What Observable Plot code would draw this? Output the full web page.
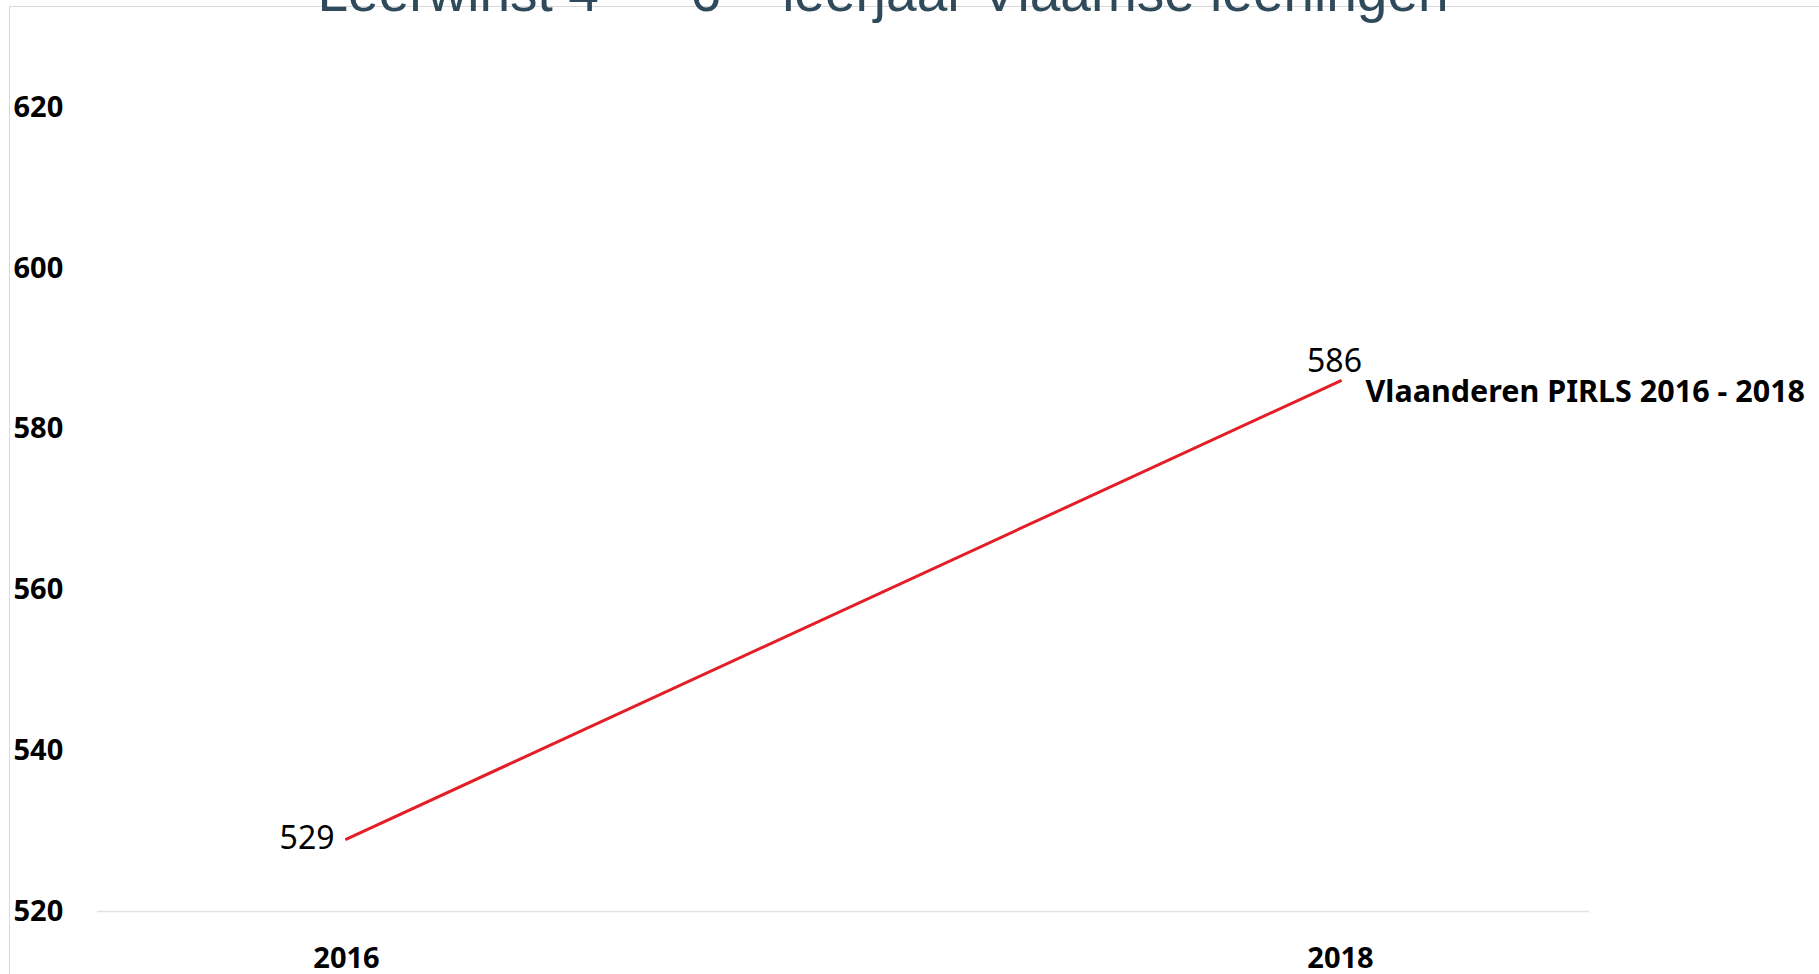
<!DOCTYPE html>
<html>
<head>
<meta charset="utf-8">
<script src="https://cdn.jsdelivr.net/npm/d3@7"></script>
<script src="https://cdn.jsdelivr.net/npm/@observablehq/plot@0.6"></script>
<style>
  html, body { margin: 0; padding: 0; background: #fff; overflow: hidden; }
  #wrap { position: relative; width: 1819px; height: 974px; }
  #border { position: absolute; left: 9px; top: 6px; width: 1812px; height: 980px;
            border-top: 1.5px solid #d9d9d9; border-left: 1.5px solid #d9d9d9; }
  #chart { position: absolute; left: 0; top: 0; }
</style>
</head>
<body>
<div id="wrap"><div id="border"></div><div id="chart"></div></div>
<script>
// Data
const years = ["2016", "2018"];
const scores = [529, 586];
const seriesName = "Vlaanderen PIRLS 2016 - 2018";
const yTicks = [520, 540, 560, 580, 600, 620];
const title = "Leerwinst 4\u00a0\u00a0\u00a0\u00a0\u00a0\u00a06\u00a0\u00a0\u00a0\u00a0leerjaar Vlaamse leerlingen";

const data = years.map((y, i) => ({year: y, score: scores[i]}));
const first = [data[0]];
const last = [data[data.length - 1]];

const chart = Plot.plot({
  width: 1819,
  height: 974,
  marginLeft: 97,
  marginRight: 230,
  marginTop: 107,
  marginBottom: 63,
  style: {fontFamily: "'Noto Sans', sans-serif", background: "transparent", color: "#000"},
  x: {type: "point", domain: years, padding: 0.25, axis: null, label: null},
  y: {domain: [520, 620], axis: null, label: null},
  marks: [
    Plot.ruleY([520], {stroke: "#e3e3e3", strokeWidth: 1.5}),
    Plot.axisY(yTicks, {anchor: "left", label: null, tickSize: 0, tickPadding: 84, textAnchor: "start",
      fontSize: 29, fontWeight: "bold", fill: "#000"}),
    Plot.axisX(years, {anchor: "bottom", label: null, tickSize: 0, tickPadding: 36,
      fontSize: 29, fontWeight: "bold", fill: "#000"}),
    Plot.line(data, {x: "year", y: "score", stroke: "#e41e26", strokeWidth: 3}),
    Plot.text(first, {x: "year", y: "score", text: d => String(d.score), textAnchor: "end",
      dx: -12, dy: 0, fontSize: 32, fill: "#000"}),
    Plot.text(last, {x: "year", y: "score", text: d => String(d.score), textAnchor: "middle",
      dx: -6, dy: -19, fontSize: 32, fill: "#000"}),
    Plot.text(last, {x: "year", y: "score", text: () => seriesName, textAnchor: "start",
      dx: 25, dy: 11, fontSize: 30.5, fontWeight: "bold", fill: "#000"}),
    Plot.text([title], {frameAnchor: "top-left", text: d => d, textAnchor: "start",
      dx: 220, dy: -136, fontSize: 55, fill: "#2e4a5b",
      fontFamily: "'Liberation Sans', Arial, sans-serif"})
  ]
});
document.getElementById("chart").appendChild(chart);
</script>
</body>
</html>
